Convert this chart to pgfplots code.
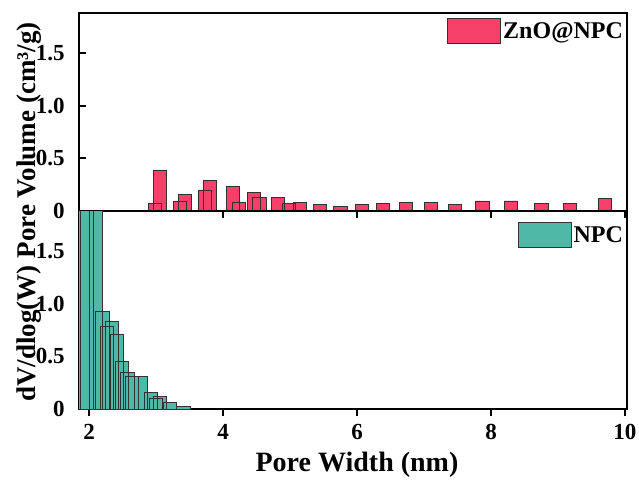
\documentclass[border=0pt]{standalone}
\usepackage{pgfplots}
\pgfplotsset{compat=1.18}
\usepackage{pgfplotstable}
\usepackage{fontspec}
\setmainfont{Liberation Serif}
\definecolor{zred}{HTML}{F5406A}
\definecolor{npc}{HTML}{4FB8A6}

\pgfplotstableread{
x y
2.98 0.07
3.06 0.39
3.36 0.09
3.43 0.16
3.73 0.20
3.80 0.29
4.15 0.23
4.24 0.085
4.46 0.18
4.54 0.13
4.82 0.13
4.98 0.07
5.15 0.085
5.45 0.06
5.75 0.04
6.07 0.065
6.39 0.075
6.73 0.08
7.10 0.08
7.46 0.06
7.87 0.095
8.30 0.095
8.75 0.07
9.18 0.07
9.70 0.12
}\zno

\pgfplotstableread{
x y
1.90 2.5
1.97 2.5
2.10 2.5
2.20 0.93
2.27 0.78
2.34 0.83
2.42 0.71
2.49 0.45
2.57 0.35
2.64 0.31
2.77 0.31
2.92 0.16
3.00 0.10
3.06 0.12
3.21 0.06
3.41 0.025
}\npc

\pgfplotsset{panel/.style={
  scale only axis, width=548pt, height=198pt,
  xmin=1.85, xmax=10.03, ymin=0, ymax=1.88,
  line width=2.2pt,
  tick style={line width=2pt, black}, major tick length=7pt,
  tick align=inside, xtick pos=bottom, ytick pos=left,
  ytick={0,0.5,1,1.5}, yticklabels={0,0.5,1.0,1.5},
  xtick={2,4,6,8,10},
  ticklabel style={font=\bfseries\fontsize{23}{23}\selectfont},
  yticklabel style={anchor=east, xshift=-10pt},
  xticklabel shift=4pt,
  /pgf/number format/assume math mode=true,
  ybar, bar width=0.2,
  legend style={draw=none, fill=none, at={(1,1)}, anchor=north east,
    inner xsep=1pt, inner ysep=2pt,
    font=\bfseries\fontsize{24}{26}\selectfont},
}}

\begin{document}
\begin{tikzpicture}
\useasboundingbox (0,0) rectangle (639pt,483pt);
\begin{axis}[panel, at={(79pt,272pt)}, anchor=south west, xticklabels={},
  legend style={yshift=-2pt}]
\addplot[fill=zred, draw=black!80, line width=0.8pt, bar shift=0pt,
  legend image code/.code={\draw[fill=zred, draw=black!80, line width=0.8pt] (0pt,-12.5pt) rectangle (53pt,12.5pt);}]
  table[x=x,y=y] {\zno};
\addlegendentry{ZnO@NPC}
\end{axis}
\begin{axis}[panel, at={(79pt,74pt)}, anchor=south west, xticklabels={2,4,6,8,10},
  legend style={yshift=-8pt}]
\addplot[fill=npc, draw=black!80, line width=0.8pt, bar shift=0pt,
  legend image code/.code={\draw[fill=npc, draw=black!80, line width=0.8pt] (0pt,-12.5pt) rectangle (53pt,12.5pt);}]
  table[x=x,y=y] {\npc};
\addlegendentry{NPC}
\end{axis}
\node[rotate=90, font=\bfseries\fontsize{27}{27}\selectfont] at (29pt,271pt) {dV/dlog(W) Pore Volume (cm³/g)};
\node[font=\bfseries\fontsize{28}{28}\selectfont] at (357pt,18pt) {Pore Width (nm)};
\end{tikzpicture}
\end{document}
